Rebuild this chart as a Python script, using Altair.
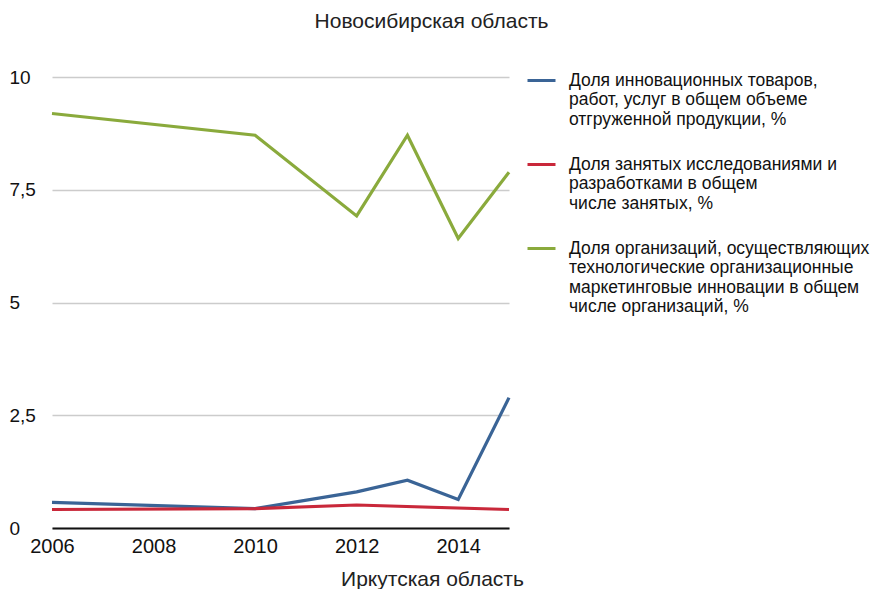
import altair as alt
import pandas as pd

series_blue = "Доля инновационных товаров,|работ, услуг в общем объеме|отгруженной продукции, %"
series_red = "Доля занятых  исследованиями и|разработками в общем|числе занятых, %"
series_green = "Доля организаций, осуществляющих|технологические организационные|маркетинговые инновации в общем|числе организаций, %"

blue_years = [2006, 2010, 2012, 2013, 2014, 2015]
blue_values = [0.57, 0.43, 0.80, 1.06, 0.63, 2.89]

red_years = [2006, 2010, 2012, 2015]
red_values = [0.41, 0.43, 0.51, 0.41]

green_years = [2006, 2010, 2012, 2013, 2014, 2015]
green_values = [9.19, 8.71, 6.92, 8.71, 6.42, 7.89]

x_ticks = [2006, 2008, 2010, 2012, 2014]
y_ticks = [0, 2.5, 5, 7.5, 10]

rows = []
for name, ys, vs in [(series_blue, blue_years, blue_values),
                     (series_red, red_years, red_values),
                     (series_green, green_years, green_values)]:
    for yr, v in zip(ys, vs):
        rows.append({"series": name, "year": yr, "value": v})
df = pd.DataFrame(rows)

font = "Liberation Sans"

chart = alt.Chart(df).mark_line(strokeWidth=3.2).encode(
    x=alt.X("year:Q",
            scale=alt.Scale(domain=[2006, 2015], nice=False, zero=False),
            axis=alt.Axis(values=x_ticks, format="d", grid=False, ticks=False,
                          tickSize=0, labelPadding=8, labelFontSize=20,
                          labelFlush=False, labelOverlap=False,
                          labelFont=font, labelColor="#111111",
                          domainColor="#111111", domainWidth=2,
                          title="Иркутская область", titleFont=font,
                          titleFontSize=21, titleFontWeight="normal",
                          titleColor="#222222", titleX=380, titleY=51,
                          titleBaseline="middle", titleAnchor="middle")),
    y=alt.Y("value:Q",
            scale=alt.Scale(domain=[0, 10], nice=False),
            axis=alt.Axis(values=y_ticks,
                          labelExpr="replace(format(datum.value, '.1~f'), '.', ',')",
                          grid=True, gridColor="#cccccc", gridWidth=1.5,
                          domain=False, ticks=False, tickSize=0,
                          labelAlign="left", labelPadding=43,
                          labelFontSize=19, labelFont=font, labelColor="#111111",
                          title=None)),
    color=alt.Color("series:N",
                    scale=alt.Scale(domain=[series_blue, series_red, series_green],
                                    range=["#3a6496", "#c9283a", "#8aaa3c"]),
                    legend=alt.Legend(orient="none", legendX=474, legendY=-12,
                                      title=None, symbolType="stroke",
                                      symbolSize=784, symbolStrokeWidth=3,
                                      labelExpr="split(datum.label, '|')",
                                      labelFont=font, labelFontSize=17.5,
                                      labelColor="#111111", labelOffset=12,
                                      labelLimit=400, rowPadding=21, padding=0)),
).properties(
    width=457,
    height=451,
    title=alt.TitleParams("Новосибирская область", font=font, fontSize=21,
                          fontWeight="normal", color="#222222",
                          anchor="middle", dx=151, offset=33),
    autosize=alt.AutoSizeParams(type="none"),
    padding={"left": 44, "top": 69, "right": 367, "bottom": 61},
).configure_view(stroke=None)

chart.save("out.html", embed_options={"renderer": "svg", "actions": False})
